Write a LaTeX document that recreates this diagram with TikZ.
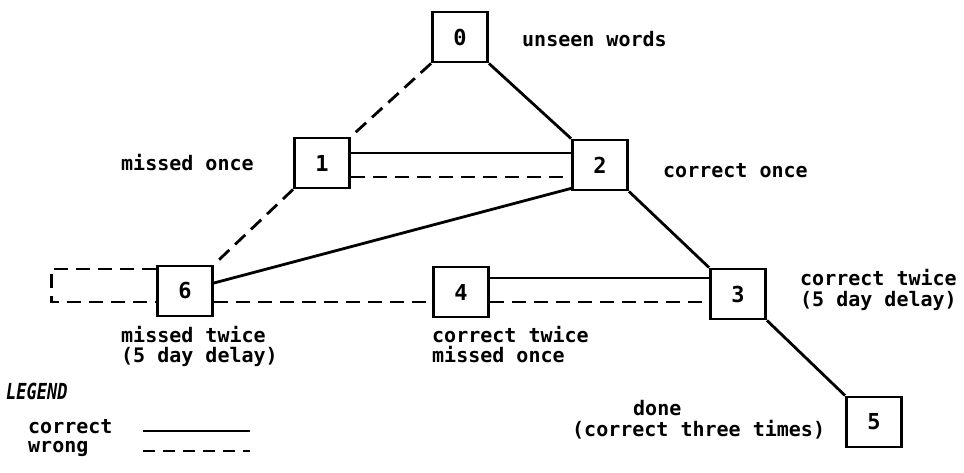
\documentclass[tikz,border=0pt]{standalone}
\usepackage{fontspec}
\setmonofont{DejaVu Sans Mono}
\begin{document}
\begin{tikzpicture}[x=1pt,y=-1pt,
  state/.style={draw, line width=2.8pt, minimum width=55pt, minimum height=50pt,
    inner sep=0pt, font=\ttfamily\bfseries\fontsize{22}{24}\selectfont},
  lbl/.style={font=\ttfamily\bfseries\fontsize{20}{21}\selectfont, inner sep=0pt,
    anchor=base west, text height=11pt, text depth=2pt},
  okline/.style={line width=2.8pt},
  badline/.style={line width=2.8pt, dash pattern=on 14pt off 8pt},
  keyline/.style={line width=2.2pt},
  keydash/.style={line width=2.2pt, dash pattern=on 12pt off 8pt},
]
\useasboundingbox (0,0) rectangle (964,472);

% states of a word
\node[state] (s0) at (460,37)  {0};
\node[state] (s1) at (322,163) {1};
\node[state] (s2) at (600,165) {2};
\node[state] (s3) at (738,294) {3};
\node[state] (s4) at (461,292) {4};
\node[state] (s5) at (874,422) {5};
\node[state] (s6) at (185,291) {6};

% state descriptions
\node[lbl] (t0)  at (522,46)  {unseen words};
\node[lbl] (t1)  at (121,170) {missed once};
\node[lbl] (t2)  at (663,177) {correct once};
\node[lbl] (t3a) at (800,285) {correct twice};
\node[lbl] (t3b) at (800,306) {(5 day delay)};
\node[lbl] (t6a) at (121,342) {missed twice};
\node[lbl] (t6b) at (121,362) {(5 day delay)};
\node[lbl] (t4a) at (432,342) {correct twice};
\node[lbl] (t4b) at (432,362) {missed once};
\node[lbl] (t5a) at (633,415) {done};
\node[lbl] (t5b) at (572,436) {(correct three times)};

% transitions: solid = correct, dashed = wrong
\draw[okline]  (s0.south east) -- (s2.north west);
\draw[badline] (s0.south west) -- (s1.north east);
\draw[okline]  ([yshift=10pt]s1.east) -- ([yshift=10pt]s1.east -| s2.west);
\draw[badline] ([yshift=-14pt]s1.east) -- ([yshift=-14pt]s1.east -| s2.west);
\draw[badline] (s1.south west) -- (s6.north east);
\draw[okline]  ([yshift=8pt]s6.east) -- ([yshift=3pt]s2.south west);
\draw[okline]  (s2.south east) -- (s3.north west);
\draw[okline]  ([yshift=14pt]s4.east) -- ([yshift=14pt]s4.east -| s3.west);
\draw[badline] ([yshift=-11pt]s6.east) -- ([yshift=-11pt]s6.east -| s4.west);
\draw[badline] ([yshift=-10pt]s4.east) -- ([yshift=-10pt]s4.east -| s3.west);
\draw[okline]  (s3.south east) -- (s5.north west);
\draw[badline] ([yshift=22pt]s6.west) -- ++(-105,0) |- ([yshift=-11pt]s6.west);

% legend
\node[lbl, text height=15pt, font=\ttfamily\bfseries\itshape\fontsize{17}{18}\selectfont]
  (lg) at (6,399) {\scalebox{1}[1.3]{LEGEND}};
\node[lbl] (lc) at (28,433) {correct};
\node[lbl] (lw) at (28,452) {wrong};
\coordinate (lca) at (143,431);
\coordinate (lcb) at (250,431);
\coordinate (lwa) at (143,451);
\coordinate (lwb) at (250,451);
\draw[keyline] (lca) -- (lcb);
\draw[keydash] (lwa) -- (lwb);
\end{tikzpicture}
\end{document}
